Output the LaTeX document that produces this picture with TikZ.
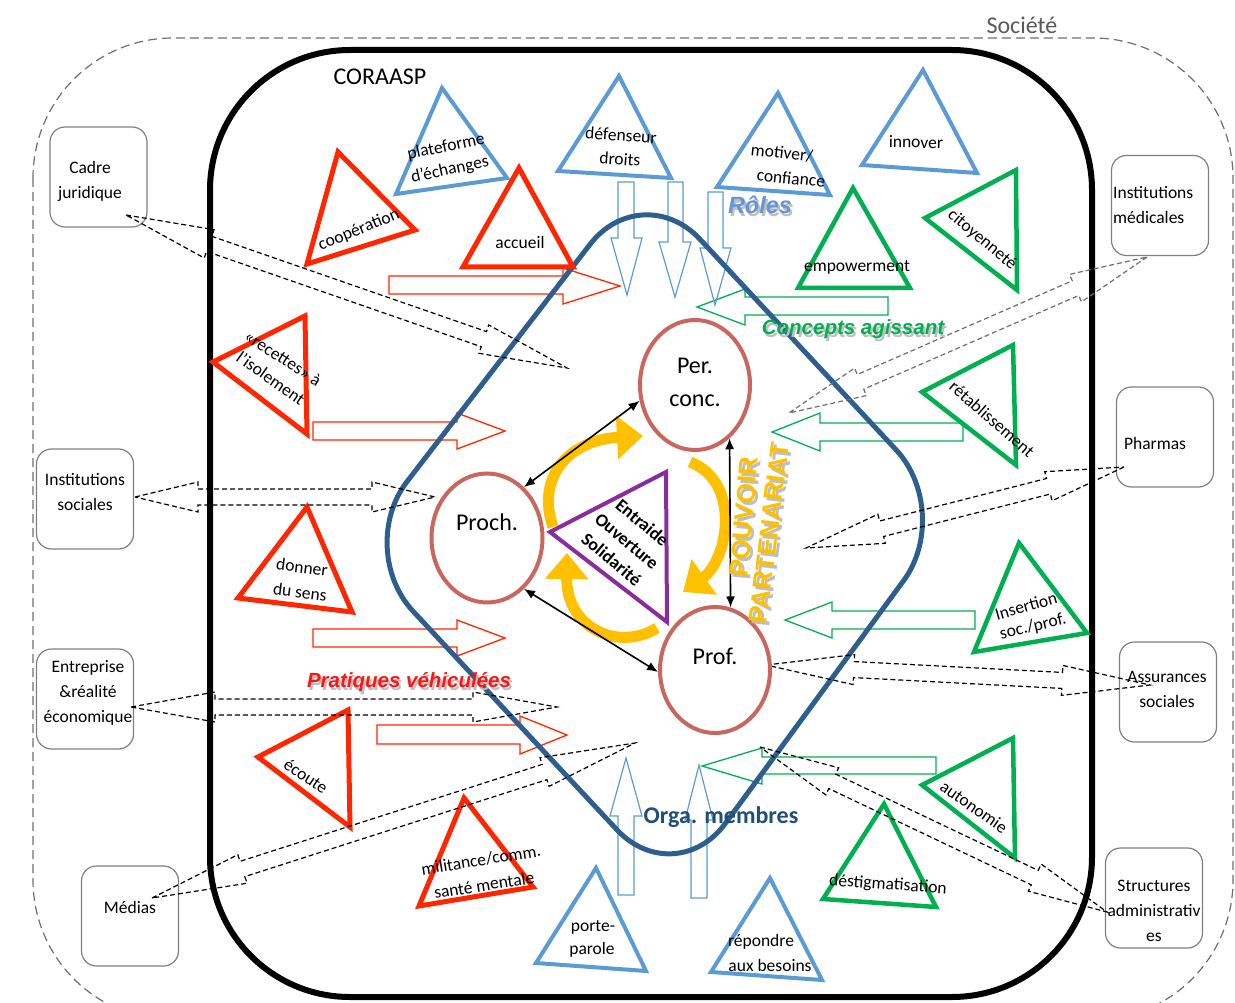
\documentclass[tikz,border=0pt]{standalone}
\usepackage{fontspec}
\setmainfont{Carlito}
\newfontfamily\artfont{Liberation Sans}
\usetikzlibrary{calc,arrows.meta,shapes.geometric}
\definecolor{tred}{RGB}{255,38,0}
\definecolor{tblue}{RGB}{91,155,213}
\definecolor{tgreen}{RGB}{0,176,80}
\definecolor{tpurple}{RGB}{139,44,158}
\definecolor{ering}{RGB}{201,102,94}
\definecolor{dblue}{RGB}{46,94,142}
\definecolor{tyellow}{RGB}{255,192,0}
\definecolor{boxgray}{RGB}{128,128,128}
\definecolor{navy}{RGB}{31,78,121}
\definecolor{socgray}{RGB}{89,89,89}
\definecolor{dashgray}{RGB}{110,110,110}
\definecolor{shadowgray}{RGB}{190,190,190}
\definecolor{roleblue}{RGB}{100,150,215}
\definecolor{artred}{RGB}{255,20,20}
\newcommand\dblarrow[4][]{%
  \draw[dasharrow,#1] (#2)
   -- ($(#2)!#4!(#3)!15pt!90:(#3)$)
   -- ($(#2)!#4!(#3)!8pt!90:(#3)$)
   -- ($(#3)!#4!(#2)!8pt!-90:(#2)$)
   -- ($(#3)!#4!(#2)!15pt!-90:(#2)$)
   -- (#3)
   -- ($(#3)!#4!(#2)!15pt!90:(#2)$)
   -- ($(#3)!#4!(#2)!8pt!90:(#2)$)
   -- ($(#2)!#4!(#3)!8pt!-90:(#3)$)
   -- ($(#2)!#4!(#3)!15pt!-90:(#3)$)
   -- cycle;}
\begin{document}
\begin{tikzpicture}[x=1pt,y=-1pt,
  societe/.style={draw=dashgray, line width=1.2pt, dash pattern=on 9pt off 5pt, rounded corners=140pt},
  frame/.style={draw=black, line width=6pt, rounded corners=140pt},
  sbox/.style={draw=boxgray, line width=1.2pt, rounded corners=15pt, minimum width=97pt, minimum height=100pt, inner sep=0pt},
  boxtxt/.style={font=\fontsize{17.5}{25}\selectfont, inner sep=0pt, align=center},
  lbl/.style={font=\fontsize{17.5}{24}\selectfont, inner sep=0pt, text=black},
  redtri/.style={draw=tred, line width=5pt, line join=miter},
  bluetri/.style={draw=tblue, line width=4pt, line join=miter},
  greentri/.style={draw=tgreen, line width=4.5pt, line join=miter},
  redblk/.style={draw=tred, line width=1.3pt},
  greenblk/.style={draw=tgreen, line width=1.3pt},
  blueblk/.style={draw=tblue, line width=1.2pt},
  dasharrow/.style={draw=black, line width=1.2pt, dash pattern=on 5pt off 3pt},
  diamondline/.style={draw=dblue, line width=5pt, rounded corners=85pt},
  ring/.style={draw=ering, line width=4pt, ellipse, fill=white, inner sep=0pt},
  bigtxt/.style={font=\fontsize{24}{33}\selectfont, inner sep=0pt, align=center},
  bidir/.style={line width=1.6pt, {Latex[length=11pt,width=9pt]}-{Latex[length=11pt,width=9pt]}},
  yarrow/.style={draw=tyellow, line width=11pt, -{Triangle[length=26pt,width=42pt]}},
  art/.style={font=\artfont\bfseries\itshape\fontsize{20.5}{24}\selectfont, inner sep=0pt},
  pv/.style={font=\artfont\bfseries\fontsize{26}{28}\selectfont, inner sep=0pt}
]
\useasboundingbox (0,0) rectangle (1235,1003);
% society
\begin{scope}
\clip (0,0) rectangle (1235,1003);
\draw[societe] (33,38) rectangle (1233,1020);
\end{scope}
\node[font=\fontsize{24}{28}\selectfont, text=socgray, inner sep=0pt] (soc) at (1022,25) {Société};
% CORAASP frame
\draw[frame] (210,50) rectangle (1092,997);
\node[bigtxt] (coraasp) at (380,77) {CORAASP};
% outside boxes
\node[sbox] (cadre) at (98.5,177) {};
\node[boxtxt] (cadret) at (90,181.5) {Cadre\\juridique};
\node[sbox] (instmed) at (1160,205.5) {};
\node[boxtxt, align=left, anchor=west] (instmedt) at (1113,205) {Institutions\\médicales};
\node[sbox] (instsoc) at (85,499) {};
\node[boxtxt] (instsoct) at (85,492.5) {Institutions\\sociales};
\node[sbox] (pharm) at (1165,437) {};
\node[boxtxt] (pharmt) at (1155,443) {Pharmas};
\node[sbox] (entr) at (85,699) {};
\node[boxtxt] (entrt) at (88,693) {Entreprise\\\&réalité\\économique};
\node[sbox] (assur) at (1168,692) {};
\node[boxtxt] (assurt) at (1167,689.5) {Assurances\\sociales};
\node[sbox] (medias) at (130,916) {};
\node[boxtxt] (mediast) at (130,907) {Médias};
\node[sbox] (struct) at (1154,898) {};
\node[boxtxt] (structt) at (1154,911) {Structures\\administrativ\\es};
% red block arrows
\draw[redblk] (389,276) -- (563,276) -- (563,268) -- (620,286) -- (563,304) -- (563,294) -- (389,294) -- cycle;
\draw[redblk] (313,422) -- (457,422) -- (457,413) -- (505,431) -- (457,449) -- (457,440) -- (313,440) -- cycle;
\draw[redblk] (313,629) -- (457,629) -- (457,620) -- (505,638) -- (457,656) -- (457,647) -- (313,647) -- cycle;
\draw[redblk] (377,725) -- (520,725) -- (520,716) -- (567,735) -- (520,754) -- (520,744) -- (377,744) -- cycle;
% green block arrows
\draw[greenblk] (888,297) -- (745,297) -- (745,289) -- (697,307) -- (745,325) -- (745,315) -- (888,315) -- cycle;
\draw[greenblk] (963,423) -- (820,423) -- (820,413) -- (772,432) -- (820,451) -- (820,441) -- (963,441) -- cycle;
\draw[greenblk] (975,611) -- (832,611) -- (832,602) -- (785,620) -- (832,638) -- (832,629) -- (975,629) -- cycle;
\draw[greenblk] (936,757) -- (762,757) -- (762,748) -- (702,766) -- (762,784) -- (762,774) -- (936,774) -- cycle;
% blue block arrows
\draw[blueblk] (618,182) -- (634,182) -- (634,238) -- (642,238) -- (627,295) -- (611,238) -- (618,238) -- cycle;
\draw[blueblk] (668,182) -- (683,182) -- (683,242) -- (691,242) -- (675,297) -- (659,242) -- (668,242) -- cycle;
\draw[blueblk] (708,192) -- (723,192) -- (723,248) -- (731,248) -- (715,305) -- (700,248) -- (708,248) -- cycle;
\draw[blueblk] (618,895) -- (634,895) -- (634,816) -- (642,816) -- (626,758) -- (610,816) -- (618,816) -- cycle;
\draw[blueblk] (691,898) -- (707,898) -- (707,820) -- (713,820) -- (699,765) -- (685,820) -- (691,820) -- cycle;
% diamond (member organisations)
\draw[diamondline] (498.5,363) -- (642,177) -- (954,512) -- (675,892) -- (355,549) -- cycle;
% triangles
\draw[bluetri] (442,88) -- (396,194) -- (507,178) -- cycle;
\draw[bluetri] (619,76) -- (558,171) -- (671,178) -- cycle;
\draw[bluetri] (778,93) -- (717,187) -- (830,195) -- cycle;
\draw[bluetri] (923,70) -- (862,165) -- (977,173) -- cycle;
\draw[bluetri] (596,868) -- (536,963) -- (646,971) -- cycle;
\draw[bluetri] (770,878) -- (711,972) -- (822,980) -- cycle;
\draw[redtri] (338,152) -- (307,264) -- (415,230) -- cycle;
\draw[redtri] (519,168) -- (463,267) -- (573,267) -- cycle;
\draw[redtri] (213,362) -- (305,316) -- (307,434) -- cycle;
\draw[redtri] (307,507) -- (238,598) -- (352,612) -- cycle;
\draw[redtri] (258,757) -- (348,710) -- (350,827) -- cycle;
\draw[redtri] (464,798) -- (419,906) -- (533,887) -- cycle;
\draw[greentri] (853,188) -- (798,288) -- (910,288) -- cycle;
\draw[greentri] (925,218) -- (1016,170) -- (1017,290) -- cycle;
\draw[greentri] (922,392) -- (1013,345) -- (1016,465) -- cycle;
\draw[greentri] (1019,543) -- (974,652) -- (1087,633) -- cycle;
\draw[greentri] (922,785) -- (1013,738) -- (1015,858) -- cycle;
\draw[greentri] (884,804) -- (823,899) -- (936,907) -- cycle;
% triangle labels
\node[lbl, rotate=12] (tplat1) at (446,147) {plateforme};
\node[lbl, rotate=12] (tplat2) at (450,170) {d’échanges};
\node[lbl, rotate=22] (tcoop) at (359,230) {coopération};
\node[lbl] (taccueil) at (520,242) {accueil};
\node[lbl, rotate=-4] (tdef1) at (621,135) {défenseur};
\node[lbl, rotate=-4] (tdef2) at (620,159) {droits};
\node[lbl, rotate=-6] (tmot1) at (782,153) {motiver/};
\node[lbl, rotate=-6] (tmot2) at (791,178) {confiance};
\node[lbl, rotate=-1] (tinn) at (916,142) {innover};
\node[lbl] (temp) at (857,267) {empowerment};
\node[lbl, rotate=-40] (tcit) at (982,240) {citoyenneté};
\node[lbl, rotate=-41] (tret) at (992,419) {rétablissement};
\node[lbl, rotate=16] (tins1) at (1026,606) {Insertion};
\node[lbl, rotate=13] (tins2) at (1033,627) {soc./prof.};
\node[lbl, rotate=-35] (taut) at (974,807) {autonomie};
\node[lbl, rotate=-4] (tdes) at (888,885) {déstigmatisation};
\node[lbl] (trep1) at (761,942) {répondre};
\node[lbl] (trep2) at (770,965) {aux besoins};
\node[lbl] (tpor1) at (593,927) {porte-};
\node[lbl] (tpor2) at (592,950) {parole};
\node[lbl, rotate=9] (tmil1) at (481,860) {militance/comm.};
\node[lbl, rotate=9] (tmil2) at (484,885) {santé mentale};
\node[lbl, rotate=-34] (tecoute) at (306,776) {écoute};
\node[lbl, rotate=-7] (tdon1) at (302,567) {donner};
\node[lbl, rotate=-7] (tdon2) at (300,592) {du sens};
\node[lbl, rotate=-33] (trec1) at (283,358) {«recettes» à};
\node[lbl, rotate=-35] (trec2) at (271,378) {l’isolement};
% dashed double arrows to society
\coordinate (cjA) at (126,215); \coordinate (cjB) at (567,368);
\dblarrow{cjA}{cjB}{88pt}
\coordinate (imA) at (1147,257); \coordinate (imB) at (789,413);
\dblarrow[draw=dashgray]{imA}{imB}{78pt}
\coordinate (isA) at (135,497); \coordinate (isB) at (435,497);
\dblarrow{isA}{isB}{63pt}
\coordinate (phA) at (1124,467); \coordinate (phB) at (806,548);
\dblarrow{phA}{phB}{78pt}
\coordinate (enA) at (131,707); \coordinate (enB) at (557,707);
\dblarrow{enA}{enB}{84pt}
\coordinate (asA) at (766,665); \coordinate (asB) at (1150,685);
\dblarrow{asA}{asB}{88pt}
\coordinate (meA) at (152,898); \coordinate (meB) at (635,743);
\dblarrow{meA}{meB}{95pt}
\coordinate (stA) at (760,747); \coordinate (stB) at (1107,912);
\dblarrow{stA}{stB}{80pt}
% actors
\node[ring, minimum width=110pt, minimum height=130pt] (per) at (695,385) {};
\node[ring, minimum width=111pt, minimum height=129pt] (proch) at (487,538) {};
\node[ring, minimum width=110pt, minimum height=126pt] (prof) at (715,670) {};
\node[bigtxt] (pert) at (695,382) {Per.\\conc.};
\node[bigtxt] (procht) at (487,522) {Proch.};
\node[bigtxt] (proft) at (715,656) {Prof.};
% yellow cycle
\draw[yarrow] (553,527) .. controls (536,478) and (568,440) .. (643,436);
\draw[yarrow] (690,462) .. controls (742,482) and (728,560) .. (683,592);
\draw[yarrow] (657,628) .. controls (618,652) and (566,628) .. (567,553);
% black relations (drawn over the cycle)
\draw[bidir] (proch.54) -- (per.196);
\draw[bidir] (proch.306) -- (prof.182);
\draw[bidir] (per.303) -- (prof.76);
% values triangle
\draw[draw=tpurple, line width=4pt, line join=miter] (550,532) -- (666,472) -- (667,622) -- cycle;
\node[font=\bfseries\fontsize{18}{24}\selectfont, rotate=-40, align=center, inner sep=0pt] (tvals) at (627,541) {Entraide\\Ouverture\\Solidarité};
% pouvoir partenariat
\node[pv, rotate=85, text=shadowgray] (pouvsh) at (747,520) {POUVOIR};
\node[pv, rotate=85, text=tyellow] (pouv) at (744,517) {POUVOIR};
\node[pv, rotate=83, text=shadowgray] (partsh) at (772,536) {PARTENARIAT};
\node[pv, rotate=83, text=tyellow] (part) at (769,533) {PARTENARIAT};
% word-art captions
\node[art, font=\artfont\bfseries\itshape\fontsize{23.5}{26}\selectfont, text=shadowgray] (rolessh) at (762,208) {Rôles};
\node[art, font=\artfont\bfseries\itshape\fontsize{23.5}{26}\selectfont, text=roleblue] (roles) at (760,205) {Rôles};
\node[art, text=shadowgray] (conceptssh) at (855,332) {Concepts agissant};
\node[art, text=tgreen] (concepts) at (853,329) {Concepts agissant};
\node[art, text=shadowgray] (pratsh) at (411,685) {Pratiques véhiculées};
\node[art, text=artred] (prat) at (409,682) {Pratiques véhiculées};
\node[font=\bfseries\fontsize{24}{28}\selectfont, text=navy, inner sep=0pt] (orga) at (721,817) {Orga. membres};
\end{tikzpicture}
\end{document}
